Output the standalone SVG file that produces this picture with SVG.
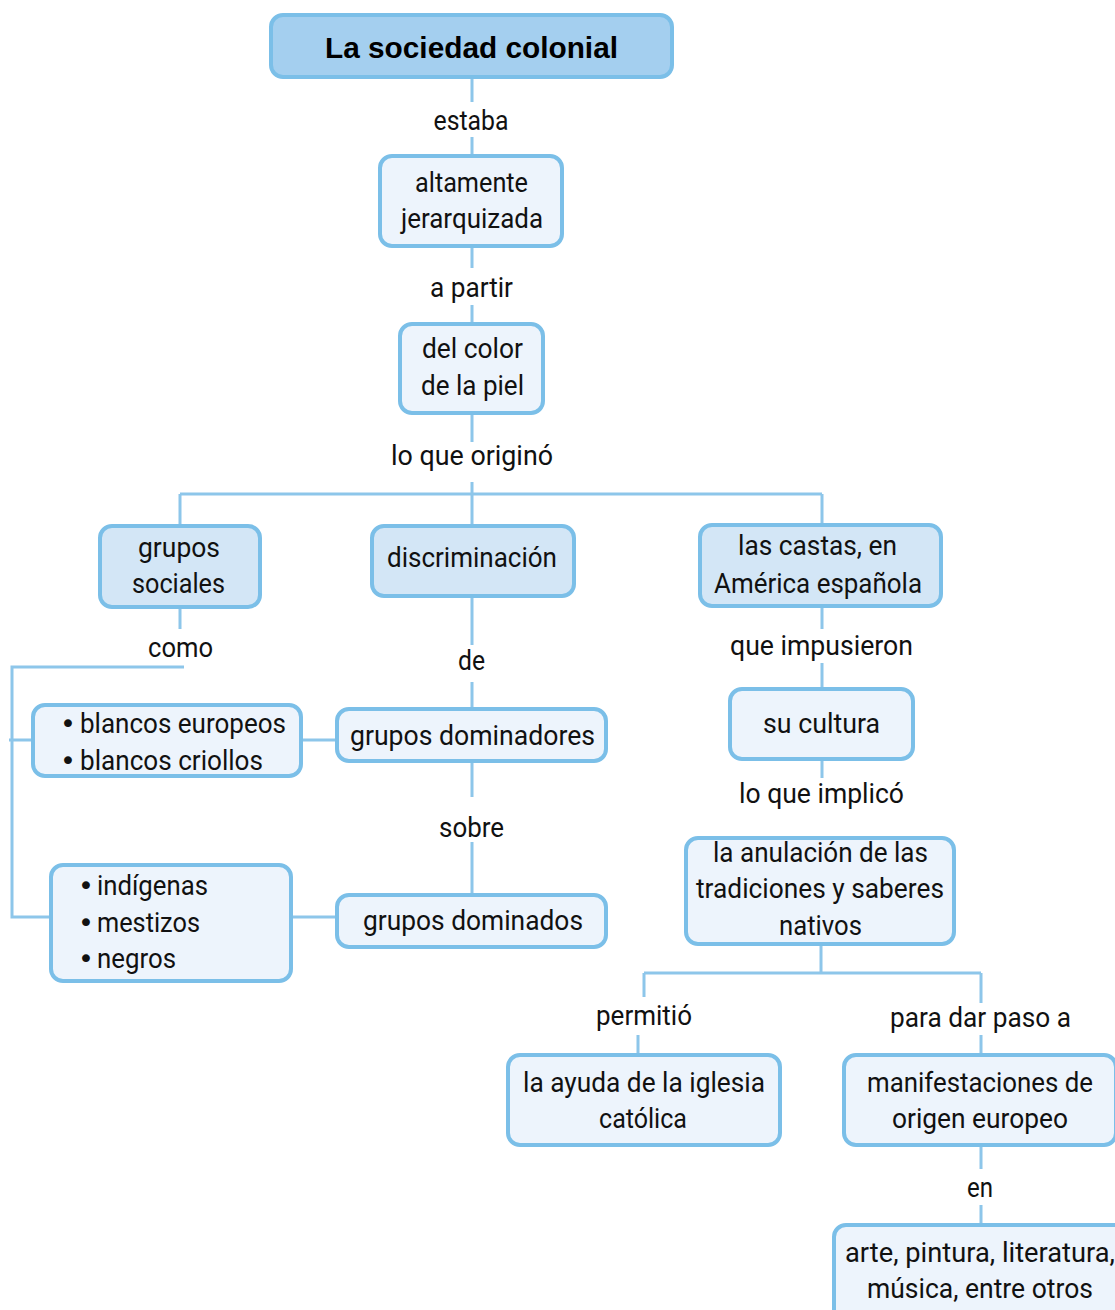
<svg xmlns="http://www.w3.org/2000/svg" width="1115" height="1310" viewBox="0 0 1115 1310">
<style>
.box{stroke:#7bbfe8;stroke-width:4}
.dark{fill:#a4cfef}
.mid{fill:#d3e6f6}
.light{fill:#edf4fc}
.t{font-family:Roboto,"Liberation Sans",sans-serif;font-size:27px;fill:#111;text-anchor:middle}
.l{font-family:Roboto,"Liberation Sans",sans-serif;font-size:27px;fill:#111}
.b{font-family:"DejaVu Sans",sans-serif;font-size:27px;fill:#111;text-anchor:middle}
.title{font-family:"Liberation Sans",Arial,sans-serif;font-weight:bold;font-size:29.5px;fill:#000;text-anchor:middle}
.c{stroke:#8dc6ea;stroke-width:3;fill:none}
</style>
<rect width="1115" height="1310" fill="#fff"/>
<g id="connectors">
<path class="c" d="M472 79V102M472 137V154M472 248V268M472 305V322M472 415V442M472 482V524M180 494H822M180 494V524M822 494V523M180 609V629M184 667H12V917H50M9 740H31M302 740H335M293 917H335M472 598V645M472 682V707M472 763V797M472 842V893M822 608V629M822 663V687M822 761V778M821 946V973M644 973H981M644 973V997M638 1035V1053M981 973V1003M981 1035V1053M981 1147V1169M981 1205V1223"/>
</g>
<g id="n-title"><rect class="box dark" x="271" y="15" width="401" height="62" rx="12"/><text class="title" x="471.5" y="58" textLength="293" lengthAdjust="spacingAndGlyphs">La sociedad colonial</text></g>
<g id="l-estaba"><text class="t" x="471" y="130" textLength="75" lengthAdjust="spacingAndGlyphs">estaba</text></g>
<g id="n-altamente"><rect class="box light" x="380" y="156" width="182" height="90" rx="12"/><text class="t" x="471.5" y="192" textLength="113" lengthAdjust="spacingAndGlyphs">altamente</text><text class="t" x="472" y="228" textLength="142" lengthAdjust="spacingAndGlyphs">jerarquizada</text></g>
<g id="l-apartir"><text class="t" x="471.5" y="297" textLength="83" lengthAdjust="spacingAndGlyphs">a partir</text></g>
<g id="n-color"><rect class="box light" x="400" y="324" width="143" height="89" rx="12"/><text class="t" x="472.5" y="358" textLength="101" lengthAdjust="spacingAndGlyphs">del color</text><text class="t" x="472.5" y="395" textLength="103" lengthAdjust="spacingAndGlyphs">de la piel</text></g>
<g id="l-origino"><text class="t" x="472" y="465" textLength="162" lengthAdjust="spacingAndGlyphs">lo que originó</text></g>
<g id="n-grupos"><rect class="box mid" x="100" y="526" width="160" height="81" rx="12"/><text class="t" x="179" y="557" textLength="82" lengthAdjust="spacingAndGlyphs">grupos</text><text class="t" x="178.5" y="593" textLength="93" lengthAdjust="spacingAndGlyphs">sociales</text></g>
<g id="n-discriminacion"><rect class="box mid" x="372" y="526" width="202" height="70" rx="12"/><text class="t" x="472" y="567" textLength="170" lengthAdjust="spacingAndGlyphs">discriminación</text></g>
<g id="n-castas"><rect class="box mid" x="700" y="525" width="241" height="81" rx="12"/><text class="t" x="817.5" y="555" textLength="159" lengthAdjust="spacingAndGlyphs">las castas, en</text><text class="t" x="818" y="593" textLength="208" lengthAdjust="spacingAndGlyphs">América española</text></g>
<g id="l-como"><text class="t" x="180.5" y="657" textLength="65" lengthAdjust="spacingAndGlyphs">como</text></g>
<g id="n-blancos"><rect class="box light" x="33" y="705" width="268" height="71" rx="12"/><text class="b" x="68" y="733">•</text><text class="l" x="80" y="733" textLength="206" lengthAdjust="spacingAndGlyphs">blancos europeos</text><text class="b" x="68" y="770">•</text><text class="l" x="80" y="770" textLength="183" lengthAdjust="spacingAndGlyphs">blancos criollos</text></g>
<g id="l-de"><text class="t" x="471.5" y="670" textLength="27" lengthAdjust="spacingAndGlyphs">de</text></g>
<g id="n-dominadores"><rect class="box light" x="337" y="709" width="269" height="52" rx="12"/><text class="t" x="472.5" y="745" textLength="245" lengthAdjust="spacingAndGlyphs">grupos dominadores</text></g>
<g id="l-sobre"><text class="t" x="471.5" y="837" textLength="65" lengthAdjust="spacingAndGlyphs">sobre</text></g>
<g id="n-dominados"><rect class="box light" x="337" y="895" width="269" height="52" rx="12"/><text class="t" x="473" y="930" textLength="220" lengthAdjust="spacingAndGlyphs">grupos dominados</text></g>
<g id="n-indigenas"><rect class="box light" x="51" y="865" width="240" height="116" rx="12"/><text class="b" x="86" y="895">•</text><text class="l" x="97" y="895" textLength="111" lengthAdjust="spacingAndGlyphs">indígenas</text><text class="b" x="86" y="932">•</text><text class="l" x="97" y="932" textLength="103" lengthAdjust="spacingAndGlyphs">mestizos</text><text class="b" x="86" y="968">•</text><text class="l" x="97" y="968" textLength="79" lengthAdjust="spacingAndGlyphs">negros</text></g>
<g id="l-impusieron"><text class="t" x="821.5" y="655" textLength="183" lengthAdjust="spacingAndGlyphs">que impusieron</text></g>
<g id="n-cultura"><rect class="box light" x="730" y="689" width="183" height="70" rx="12"/><text class="t" x="821.5" y="733" textLength="117" lengthAdjust="spacingAndGlyphs">su cultura</text></g>
<g id="l-implico"><text class="t" x="821.5" y="803" textLength="165" lengthAdjust="spacingAndGlyphs">lo que implicó</text></g>
<g id="n-anulacion"><rect class="box light" x="686" y="838" width="268" height="106" rx="12"/><text class="t" x="820.5" y="862" textLength="215" lengthAdjust="spacingAndGlyphs">la anulación de las</text><text class="t" x="820" y="898" textLength="248" lengthAdjust="spacingAndGlyphs">tradiciones y saberes</text><text class="t" x="820.5" y="935" textLength="83" lengthAdjust="spacingAndGlyphs">nativos</text></g>
<g id="l-permitio"><text class="t" x="644" y="1025" textLength="96" lengthAdjust="spacingAndGlyphs">permitió</text></g>
<g id="l-paso"><text class="t" x="980.5" y="1027" textLength="181" lengthAdjust="spacingAndGlyphs">para dar paso a</text></g>
<g id="n-ayuda"><rect class="box light" x="508" y="1055" width="272" height="90" rx="12"/><text class="t" x="644" y="1092" textLength="242" lengthAdjust="spacingAndGlyphs">la ayuda de la iglesia</text><text class="t" x="643" y="1128" textLength="88" lengthAdjust="spacingAndGlyphs">católica</text></g>
<g id="n-manifestaciones"><rect class="box light" x="844" y="1055" width="272" height="90" rx="12"/><text class="t" x="980" y="1092" textLength="226" lengthAdjust="spacingAndGlyphs">manifestaciones de</text><text class="t" x="980" y="1128" textLength="176" lengthAdjust="spacingAndGlyphs">origen europeo</text></g>
<g id="l-en"><text class="t" x="980" y="1197" textLength="26" lengthAdjust="spacingAndGlyphs">en</text></g>
<g id="n-arte"><rect class="box light" x="834" y="1225" width="292" height="100" rx="12"/><text class="t" x="980" y="1262" textLength="270" lengthAdjust="spacingAndGlyphs">arte, pintura, literatura,</text><text class="t" x="980" y="1298" textLength="226" lengthAdjust="spacingAndGlyphs">música, entre otros</text></g>
</svg>
